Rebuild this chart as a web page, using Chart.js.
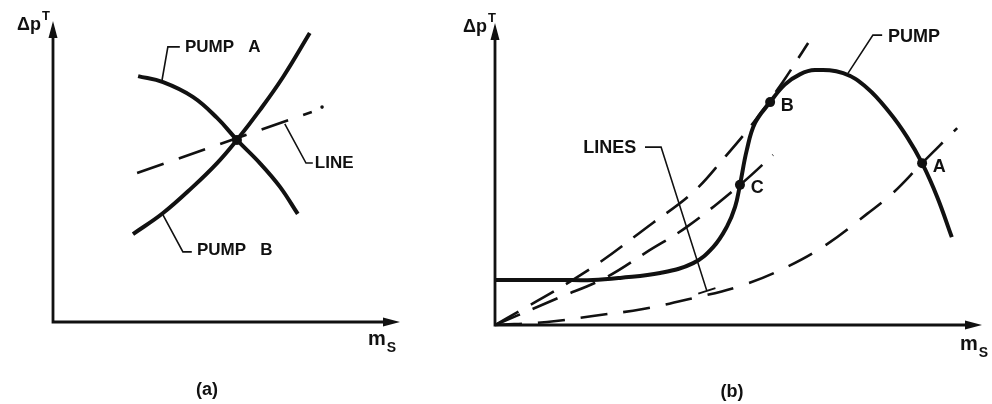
<!DOCTYPE html>
<html>
<head>
<meta charset="utf-8">
<script src="https://cdn.jsdelivr.net/npm/chart.js@4.4.1/dist/chart.umd.min.js"></script>
<style>
  body { margin: 0; background: #fff; }
  #wrap { position: relative; width: 992px; height: 404px; }
  canvas { position: absolute; top: 0; }
</style>
</head>
<body>
<div id="wrap">
  <canvas id="chartA" width="420" height="404" style="left:0"></canvas>
  <canvas id="chartB" width="572" height="404" style="left:420px"></canvas>
</div>
<script>
// ---- panel (a): two pumps and one system line, arbitrary units 0..100 ----
const pumpA = [[24.9, 81.7], [32.2, 79.7], [40.9, 74.8], [48.0, 67.8], [53.8, 60.5], [60.5, 52.8], [66.4, 44.9], [71.6, 35.9]];
const pumpB = [[23.4, 29.2], [32.2, 36.2], [40.9, 44.9], [48.0, 52.8], [53.8, 60.5], [60.5, 70.4], [67.3, 81.4], [75.1, 96.0]];
const systemLineA = [[24.6, 49.5], [75.7, 69.8]];
const lineEndDot = [[78.7, 71.4]];
const operatingPointA = [[53.8, 60.5]];

// ---- panel (b): one pump with a hump and three system lines ----
const pumpCurve = [[0, 14.9], [13.3, 14.9], [20.1, 14.9], [25.7, 15.6], [33.9, 17.2], [40.7, 20.5], [44.8, 25.8],
  [47.6, 32.5], [49.3, 39.1], [50.3, 46.4], [51.7, 57.9], [53.4, 66.9], [56.5, 73.8], [59.5, 79.6], [62.6, 83.0],
  [65.7, 84.4], [71.5, 83.4], [76.4, 78.5], [81.1, 70.2], [84.6, 62.3], [87.7, 53.6], [90.8, 42.4], [93.8, 29.1]];
const lineThroughB = [[0, 0], [18.5, 17.5], [32.4, 33.8], [40.7, 44.0], [47.2, 55.6], [53.0, 66.9], [59.1, 80.5], [64.3, 93.4]];
const lineThroughC = [[0, 0], [12.9, 8.9], [22.6, 15.6], [31.2, 24.2], [39.4, 32.5], [50.3, 46.4], [57.1, 56.3]];
const lineThroughA = [[0, 0], [10.7, 1.0], [20.1, 3.0], [30.4, 5.3], [40.7, 8.9], [50.3, 12.9], [59.5, 18.9], [68.2, 26.8],
  [76.4, 36.8], [81.7, 43.7], [87.7, 53.6], [94.9, 65.2]];
const operatingPointsB = [[56.5, 73.8], [50.3, 46.4], [87.7, 53.6]];
const pointNamesB = ['B', 'C', 'A'];

const INK = '#111';
const FONT = '"Liberation Sans", Arial, sans-serif';
const pts = arr => arr.map(([x, y]) => ({ x, y }));

// draws axes with arrows, labels and leader lines on top of the datasets
const sketchPlugin = {
  id: 'sketch',
  afterDatasetsDraw(chart, args, opts) {
    const { ctx, chartArea: a, scales } = chart;
    const px = v => scales.x.getPixelForValue(v);
    const py = v => scales.y.getPixelForValue(v);
    ctx.save();
    ctx.strokeStyle = INK;
    ctx.fillStyle = INK;
    ctx.lineCap = 'butt';

    // axes
    ctx.lineWidth = 2.8;
    ctx.beginPath();
    ctx.moveTo(a.left, a.top + 12);
    ctx.lineTo(a.left, a.bottom);
    ctx.lineTo(a.right - 12, a.bottom);
    ctx.stroke();
    ctx.beginPath();
    ctx.moveTo(a.left, a.top);
    ctx.lineTo(a.left - 4.5, a.top + 17);
    ctx.lineTo(a.left + 4.5, a.top + 17);
    ctx.closePath();
    ctx.fill();
    ctx.beginPath();
    ctx.moveTo(a.right, a.bottom);
    ctx.lineTo(a.right - 17, a.bottom - 4.5);
    ctx.lineTo(a.right - 17, a.bottom + 4.5);
    ctx.closePath();
    ctx.fill();

    // axis titles
    ctx.textBaseline = 'alphabetic';
    ctx.font = 'bold 18px ' + FONT;
    ctx.textAlign = 'right';
    ctx.fillText('\u0394p', a.left + opts.yTitle[0], a.top + opts.yTitle[1]);
    ctx.font = 'bold 13px ' + FONT;
    ctx.textAlign = 'left';
    ctx.fillText('T', a.left + opts.yTitle[0] + 1, a.top + opts.yTitle[1] - 10);
    ctx.font = 'bold 20px ' + FONT;
    ctx.fillText('m', a.right + opts.xTitle[0], a.bottom + opts.xTitle[1]);
    const mw = ctx.measureText('m').width;
    ctx.font = 'bold 14px ' + FONT;
    ctx.fillText('S', a.right + opts.xTitle[0] + mw + 1, a.bottom + opts.xTitle[1] + 7);

    // panel caption
    ctx.font = 'bold 18px ' + FONT;
    ctx.textAlign = 'center';
    ctx.fillText(opts.caption[0], opts.caption[1], opts.caption[2]);

    // leader lines
    ctx.lineWidth = 1.6;
    opts.leaders.forEach(path => {
      ctx.beginPath();
      path.forEach(([x, y], i) => i ? ctx.lineTo(px(x), py(y)) : ctx.moveTo(px(x), py(y)));
      ctx.stroke();
    });
    // end bar on a leader (perpendicular)
    (opts.bars || []).forEach(([x0, y0, x1, y1]) => {
      const ax = px(x0), ay = py(y0), bx = px(x1), by = py(y1);
      const len = Math.hypot(bx - ax, by - ay);
      const nx = -(by - ay) / len * 9, ny = (bx - ax) / len * 9;
      ctx.lineWidth = 2;
      ctx.beginPath();
      ctx.moveTo(bx - nx, by - ny);
      ctx.lineTo(bx + nx, by + ny);
      ctx.stroke();
    });

    // labels
    ctx.textAlign = 'left';
    ctx.textBaseline = 'middle';
    opts.labels.forEach(([text, x, y, size]) => {
      ctx.font = 'bold ' + size + 'px ' + FONT;
      ctx.fillText(text, px(x), py(y));
    });
    ctx.restore();
  }
};

const curve = (data, width, dash) => ({
  data: pts(data),
  showLine: true,
  borderColor: INK,
  borderWidth: width,
  borderDash: dash || [],
  pointRadius: 0,
  tension: 0.4,
  clip: false
});
const dots = (data, r) => ({
  data: pts(data),
  showLine: false,
  pointRadius: r,
  pointBackgroundColor: INK,
  pointBorderWidth: 0,
  clip: false
});

const baseOptions = (xMax, padding, plugin) => ({
  responsive: false,
  animation: false,
  events: [],
  layout: { padding },
  scales: {
    x: { type: 'linear', min: 0, max: xMax, display: false },
    y: { type: 'linear', min: 0, max: 100, display: false }
  },
  plugins: { legend: { display: false }, tooltip: { enabled: false }, sketch: plugin }
});

new Chart(document.getElementById('chartA'), {
  type: 'scatter',
  data: {
    datasets: [
      curve(pumpA, 4),
      curve(pumpB, 4),
      curve(systemLineA, 2.6, [28, 16]),
      dots(lineEndDot, 1.8),
      dots(operatingPointA, 5)
    ]
  },
  options: baseOptions(101.5, { left: 53, right: 20, top: 21, bottom: 82 }, {
    yTitle: [-12, 9],
    xTitle: [-32, 23],
    caption: ['(a)', 207, 395],
    leaders: [
      [[37.1, 91.4], [33.6, 91.4], [31.9, 80.4]],
      [[76.0, 52.8], [74.0, 52.8], [67.8, 65.8]],
      [[40.6, 23.3], [38.0, 23.3], [32.2, 35.5]]
    ],
    labels: [
      ['PUMP   A', 38.6, 91.4, 17],
      ['LINE', 76.6, 52.8, 17],
      ['PUMP   B', 42.1, 23.9, 17]
    ]
  }),
  plugins: [sketchPlugin]
});

new Chart(document.getElementById('chartB'), {
  type: 'scatter',
  data: {
    datasets: [
      curve(lineThroughB, 2.6, [27, 14]),
      curve(lineThroughC, 2.6, [27, 14]),
      curve(lineThroughA, 2.6, [27, 16]),
      curve(pumpCurve, 4),
      dots(operatingPointsB, 5)
    ]
  },
  options: baseOptions(100, { left: 75, right: 10, top: 23, bottom: 79 }, {
    yTitle: [-8, 9],
    xTitle: [-22, 25],
    caption: ['(b)', 312, 397],
    leaders: [
      [[79.5, 96.0], [77.6, 96.0], [72.5, 83.4]],
      [[30.8, 58.9], [34.1, 58.9], [43.5, 11.3]]
    ],
    bars: [[34.1, 58.9, 43.5, 11.3]],
    labels: [
      ['PUMP', 80.7, 95.4, 18],
      ['LINES', 18.1, 58.6, 18],
      ...pointNamesB.map((n, i) => [n, operatingPointsB[i][0] + 2.2, operatingPointsB[i][1] - 1.2, 18])
    ]
  }),
  plugins: [sketchPlugin]
});
</script>
</body>
</html>
